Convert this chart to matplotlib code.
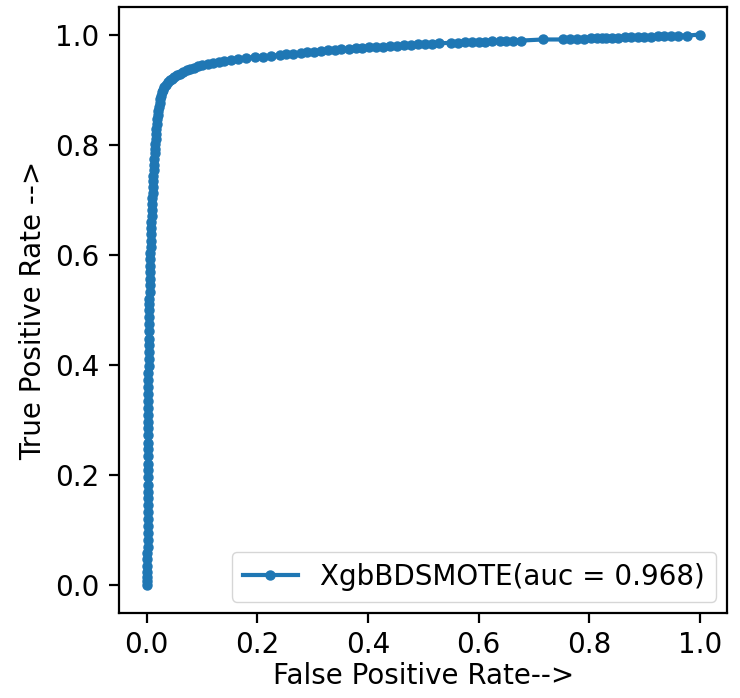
import matplotlib
matplotlib.use('Agg')
import matplotlib.pyplot as plt

# ROC points (false positive rate, true positive rate)
fpr = [0.0, 0.0, 0.0005, 0.0005, 0.001, 0.001, 0.001, 0.0015, 0.0015, 0.0015,
       0.0015, 0.002, 0.002, 0.002, 0.002, 0.002, 0.002, 0.0025, 0.0025, 0.0025,
       0.0025, 0.0025, 0.0025, 0.0025, 0.003, 0.003, 0.003, 0.003, 0.003, 0.003,
       0.003, 0.003, 0.003, 0.0035, 0.0035, 0.0035, 0.0035, 0.0035, 0.0035, 0.004,
       0.004, 0.004,
       0.0045, 0.0045, 0.005, 0.005, 0.0055, 0.0055, 0.006, 0.006, 0.0065, 0.007,
       0.0075, 0.0075, 0.008, 0.0085, 0.009, 0.009, 0.0095, 0.01, 0.0105, 0.011,
       0.0115, 0.012, 0.0125, 0.013, 0.0135, 0.014, 0.0145, 0.015, 0.016, 0.0165,
       0.017, 0.018, 0.019, 0.02, 0.021, 0.022, 0.023, 0.024, 0.026, 0.028,
       0.030, 0.032,
       0.035, 0.038, 0.042, 0.046, 0.05, 0.055, 0.06, 0.066, 0.072, 0.078,
       0.085, 0.093, 0.1, 0.11, 0.12, 0.13, 0.14, 0.152, 0.165, 0.18,
       0.195, 0.21, 0.225,
       0.24, 0.252, 0.265, 0.278, 0.29, 0.303, 0.315, 0.328, 0.34, 0.352,
       0.365, 0.378, 0.39, 0.402, 0.415, 0.428, 0.44, 0.452, 0.465, 0.478,
       0.49, 0.503, 0.515, 0.528, 0.55, 0.562, 0.575, 0.588, 0.6, 0.612,
       0.625, 0.638, 0.65, 0.662, 0.676, 0.717, 0.752, 0.765, 0.778, 0.79,
       0.803, 0.815, 0.823, 0.83, 0.842, 0.853, 0.865, 0.876, 0.888, 0.9,
       0.912, 0.924, 0.936, 0.948, 0.96, 0.977, 1.0]

tpr = [0.000, 0.008, 0.015, 0.024, 0.035, 0.047, 0.058, 0.07, 0.083, 0.095,
       0.108, 0.12, 0.133, 0.146, 0.158, 0.17, 0.183, 0.196, 0.209, 0.221,
       0.234, 0.247, 0.259, 0.272, 0.285, 0.297, 0.31, 0.322, 0.335, 0.348,
       0.36, 0.373, 0.386, 0.398, 0.41, 0.423, 0.436, 0.448, 0.461, 0.474,
       0.487, 0.499,
       0.51, 0.52, 0.532, 0.545, 0.557, 0.568, 0.58, 0.592, 0.603, 0.615,
       0.626, 0.637, 0.648, 0.659, 0.67, 0.681, 0.692, 0.703, 0.713, 0.724,
       0.734, 0.744, 0.754, 0.764, 0.774, 0.784, 0.793, 0.802, 0.811, 0.82,
       0.829, 0.838, 0.846, 0.854, 0.862, 0.869, 0.876, 0.883, 0.889, 0.895,
       0.9, 0.905,
       0.909, 0.913, 0.917, 0.92, 0.923, 0.926, 0.929, 0.932, 0.935, 0.937,
       0.94, 0.942, 0.944, 0.946, 0.948, 0.95, 0.952, 0.954, 0.956, 0.958,
       0.959, 0.96, 0.961,
       0.963, 0.964, 0.965, 0.966, 0.968, 0.969, 0.97, 0.971, 0.972, 0.973,
       0.974, 0.975, 0.976, 0.977, 0.977, 0.978, 0.979, 0.98, 0.981, 0.981,
       0.982, 0.983, 0.983, 0.984, 0.985, 0.985, 0.986, 0.986, 0.987, 0.987,
       0.988, 0.988, 0.989, 0.989, 0.989, 0.991, 0.991, 0.992, 0.992, 0.992,
       0.993, 0.993, 0.993, 0.994, 0.994, 0.994, 0.995, 0.995, 0.996, 0.996,
       0.996, 0.997, 0.997, 0.997, 0.998, 0.998, 1.0]

auc_value = 0.968
model_name = 'XgbBDSMOTE'

# original looks like a default plot drawn at twice the size
s = 2.0
plt.rcParams['font.size'] = 10 * s
plt.rcParams['lines.linewidth'] = 1.5 * s
plt.rcParams['lines.markersize'] = 13
plt.rcParams['axes.linewidth'] = 0.8 * s
plt.rcParams['xtick.major.size'] = 3.5 * s
plt.rcParams['ytick.major.size'] = 3.5 * s
plt.rcParams['xtick.major.width'] = 0.8 * s
plt.rcParams['ytick.major.width'] = 0.8 * s
plt.rcParams['xtick.major.pad'] = 3.0 * s
plt.rcParams['ytick.major.pad'] = 3.5 * s
plt.rcParams['axes.labelpad'] = 6

fig = plt.figure(figsize=(7.4, 6.98), dpi=100)
ax = fig.add_axes([0.161, 0.122, 0.822, 0.868])

ax.plot(fpr, tpr, marker='.', color='#1f77b4',
        label=model_name + '(auc = %0.3f)' % auc_value)

ax.set_xlabel('False Positive Rate-->', labelpad=2)
ax.set_ylabel('True Positive Rate -->')
ax.legend(loc='lower right', borderaxespad=0.4)

fig.savefig('out.png', dpi=100)
